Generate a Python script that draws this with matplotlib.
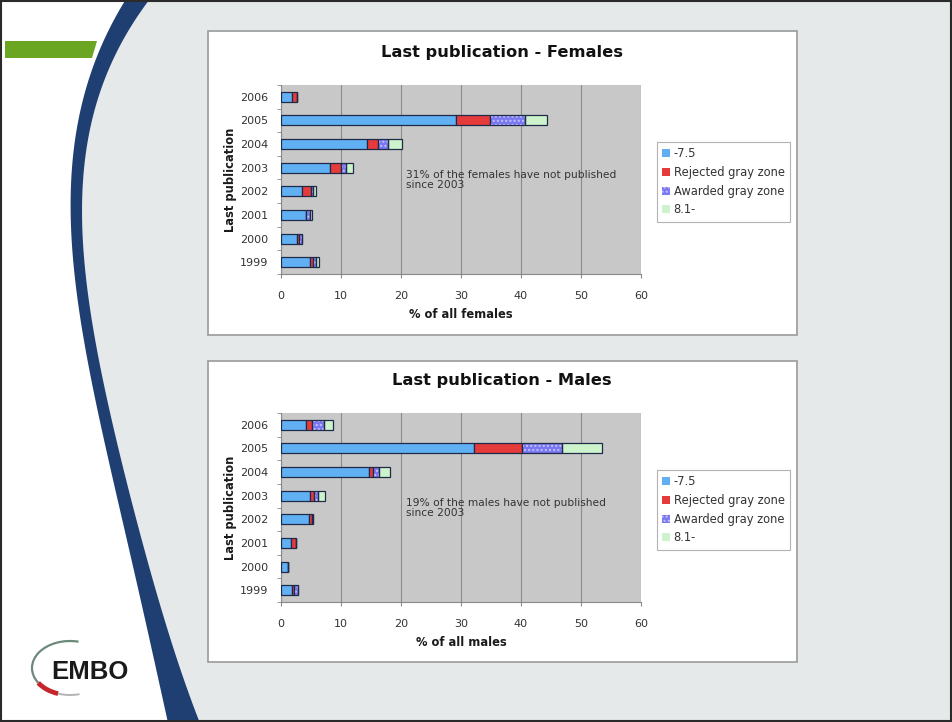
import matplotlib.pyplot as plt
import numpy as np
from matplotlib.patches import Rectangle, Polygon, Arc, Patch

# share of each cohort (% of all females / males) by year of last publication
years = ["1999", "2000", "2001", "2002", "2003", "2004", "2005", "2006"]
series_names = ["-7.5", "Rejected gray zone", "Awarded gray zone", "8.1-"]

female_low = [4.9, 2.6, 4.2, 3.5, 8.1, 14.4, 29.1, 1.8]
female_rejected = [0.45, 0.4, 0.0, 1.55, 1.9, 1.8, 5.8, 0.9]
female_awarded = [0.45, 0.5, 0.55, 0.35, 0.9, 1.7, 5.8, 0.0]
female_high = [0.45, 0.0, 0.4, 0.5, 1.1, 2.3, 3.6, 0.0]

male_low = [1.9, 1.2, 1.6, 4.6, 4.8, 14.6, 32.2, 4.1]
male_rejected = [0.3, 0.0, 0.9, 0.6, 0.7, 0.7, 7.9, 1.0]
male_awarded = [0.7, 0.0, 0.0, 0.2, 0.6, 1.1, 6.8, 2.1]
male_high = [0.0, 0.0, 0.0, 0.0, 1.3, 1.7, 6.6, 1.4]

BLUE = "#62b0f4"
RED = "#e63b3b"
PURPLE = "#7a78f0"
PURPLE_DOT = "#c4c2ff"
GREEN = "#cdf3cd"
EDGE = "#1e2a48"
PLOT_BG = "#c8c8c8"
SLIDE_GRAY = "#e6e9ea"
NAVY = "#1f3e72"
TEXT = "#333333"

W, H = 952, 722
fig = plt.figure(figsize=(W / 100, H / 100), dpi=100)

# slide background, drawn in pixel coordinates (y grows downwards)
bg = fig.add_axes([0, 0, 1, 1])
bg.set_xlim(0, W)
bg.set_ylim(H, 0)
bg.axis("off")
bg.set_zorder(-1)

ys = np.array([0, 20, 70, 100, 200, 300, 400, 500, 600, 722])
lx = np.array([126, 113, 92, 83, 72, 75, 97, 118, 140, 168])
rx = np.array([147, 137, 110, 97, 82, 86, 110, 132, 157, 200])
yy = np.linspace(0, H, 200)
left_edge = np.polyval(np.polyfit(ys, lx, 4), yy)
right_edge = np.polyval(np.polyfit(ys, rx, 4), yy)

bg.add_patch(Rectangle((0, 0), W, H, color="white", zorder=0))
gray_pts = np.vstack([np.column_stack([right_edge, yy]), [[W, H], [W, 0]]])
bg.add_patch(Polygon(gray_pts, closed=True, color=SLIDE_GRAY, lw=0, zorder=1))
band_pts = np.vstack([np.column_stack([left_edge, yy]),
                      np.column_stack([right_edge, yy])[::-1]])
bg.add_patch(Polygon(band_pts, closed=True, color=NAVY, lw=0, zorder=2))
bg.add_patch(Polygon([[5, 41], [97, 41], [92, 58], [5, 58]], closed=True,
                     color="#6aa622", lw=0, zorder=2))
bg.add_patch(Rectangle((1, 1), W - 2, H - 2, fill=False, ec="#2a2a2a", lw=1.5, zorder=5))

# EMBO logo: ring around the lettering, red accent bottom-left
ring = dict(xy=(70, 668), width=76, height=54, zorder=3)
bg.add_patch(Arc(**ring, theta1=155, theta2=288, color="#6b8a7b", lw=1.6))
bg.add_patch(Arc(**ring, theta1=115, theta2=155, color="#c4262b", lw=3.4))
bg.add_patch(Arc(**ring, theta1=70, theta2=115, color="#b4b4b4", lw=1.4))
bg.text(51, 672, "EMBO", fontsize=18.5, fontweight="bold", color="#1a1a1a",
        va="center", ha="left", family="Liberation Sans", zorder=4)

# chart panels
for top, bottom in [(31, 335), (361, 662)]:
    bg.add_patch(Rectangle((208, top), 589, bottom - top, fc="white",
                           ec="#9a9a9a", lw=1.2, zorder=3))


def draw_chart(ax_rect, low, rejected, awarded, high, title, xlabel, note, legend_top, title_y):
    ax = fig.add_axes(ax_rect)
    ax.set_facecolor(PLOT_BG)
    y = np.arange(len(years))
    h = 0.42
    low = np.array(low)
    rejected = np.array(rejected)
    awarded = np.array(awarded)
    high = np.array(high)

    ax.barh(y, low, height=h, color=BLUE, edgecolor=EDGE, lw=0.9, zorder=3)
    ax.barh(y, rejected, left=low, height=h, color=RED, edgecolor=EDGE, lw=0.9, zorder=3)
    start = low + rejected
    ax.barh(y, awarded, left=start, height=h, color=PURPLE, edgecolor=PURPLE_DOT,
            hatch="....", lw=0, zorder=3)
    ax.barh(y, awarded, left=start, height=h, fill=False, edgecolor=EDGE, lw=0.9, zorder=4)
    ax.barh(y, high, left=start + awarded, height=h, color=GREEN, edgecolor=EDGE, lw=0.9, zorder=3)

    ax.set_xlim(0, 60)
    ax.set_ylim(-0.5, len(years) - 0.5)
    ax.set_xticks(np.arange(0, 61, 10))
    ax.set_yticks(y)
    ax.set_yticklabels(years)
    ax.set_yticks(np.arange(-0.5, len(years), 1), minor=True)
    ax.tick_params(axis="y", which="major", length=0, labelsize=8, colors=TEXT, pad=9)
    ax.tick_params(axis="y", which="minor", length=3, color="#888888")
    ax.tick_params(axis="x", length=3, color="#888888", labelsize=8, labelcolor=TEXT, pad=9)
    ax.grid(axis="x", color="#8c8c8c", lw=0.8, zorder=1)
    for side in ["top", "right"]:
        ax.spines[side].set_visible(False)
    for side in ["left", "bottom"]:
        ax.spines[side].set_color("#888888")

    ax.set_xlabel(xlabel, fontsize=8.3, fontweight="bold", color="#1a1a1a", labelpad=5)
    ax.set_ylabel("Last publication", fontsize=8.3, fontweight="bold", color="#1a1a1a", labelpad=2)
    ax.text(20.8, 3.92, note, fontsize=7.7, color=TEXT, va="top", ha="left", linespacing=1.1)

    fig.text(502 / W, 1 - title_y / H, title, fontsize=11.7, fontweight="bold",
             color="#111111", ha="center", va="center")

    handles = [Patch(facecolor=BLUE, edgecolor="#ffffff", lw=0),
               Patch(facecolor=RED, edgecolor="#ffffff", lw=0),
               Patch(facecolor=PURPLE, edgecolor=PURPLE_DOT, hatch="....", lw=0),
               Patch(facecolor=GREEN, edgecolor="#ffffff", lw=0)]
    leg = fig.legend(handles, series_names, loc="upper left",
                     bbox_to_anchor=(657 / W, 1 - legend_top / H),
                     fontsize=8.3, handlelength=0.7, handleheight=0.7,
                     handletextpad=0.3, labelspacing=0.5, borderpad=0.45,
                     frameon=True, fancybox=False, borderaxespad=0)
    leg.get_frame().set_edgecolor("#a0a0a0")
    leg.get_frame().set_linewidth(0.8)
    for t in leg.get_texts():
        t.set_color(TEXT)
    return ax


draw_chart([281 / W, 1 - 274 / H, 360 / W, 189 / H],
           female_low, female_rejected, female_awarded, female_high,
           "Last publication - Females", "% of all females",
           "31% of the females have not published\nsince 2003", 142, 53)
draw_chart([281 / W, 1 - 602 / H, 360 / W, 189 / H],
           male_low, male_rejected, male_awarded, male_high,
           "Last publication - Males", "% of all males",
           "19% of the males have not published\nsince 2003", 470, 381)

fig.savefig("out.png", dpi=100)
